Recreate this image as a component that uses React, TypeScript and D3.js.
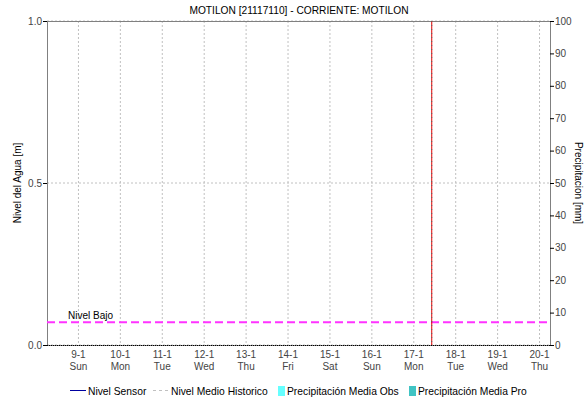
import React from "react";
import * as d3 from "d3";

const title = "MOTILON [21117110] - CORRIENTE: MOTILON";
const dayLabels = ["9-1", "10-1", "11-1", "12-1", "13-1", "14-1", "15-1", "16-1", "17-1", "18-1", "19-1", "20-1"];
const weekdayLabels = ["Sun", "Mon", "Tue", "Wed", "Thu", "Fri", "Sat", "Sun", "Mon", "Tue", "Wed", "Thu"];
const dayDates = dayLabels.map((_, i) => new Date(Date.UTC(2022, 0, 9 + i)));
const domainStart = new Date(Date.UTC(2022, 0, 8, 6));
const domainEnd = new Date(Date.UTC(2022, 0, 20, 6));
const markerTime = new Date(Date.UTC(2022, 0, 17, 10));
const leftTicks = [0, 0.5, 1.0];
const rightTicks = [0, 10, 20, 30, 40, 50, 60, 70, 80, 90, 100];
const nivelBajo = 0.07;
const legendItems = [
  { label: "Nivel Sensor", kind: "line", color: "#0000a0" },
  { label: "Nivel Medio Historico", kind: "dash", color: "#c0c0c0" },
  { label: "Precipitación Media Obs", kind: "box", color: "#66ffff" },
  { label: "Precipitación Media Pro", kind: "box", color: "#40c4c4" },
];

export default function App() {
  const W = 585, H = 401;
  const L = 47, R = 550, T = 21, B = 345;
  const x = d3.scaleUtc().domain([domainStart, domainEnd]).range([L, R]);
  const yL = d3.scaleLinear().domain([0, 1]).range([B, T]);
  const yR = d3.scaleLinear().domain([0, 100]).range([B, T]);
  const font = "'Liberation Sans', Arial, sans-serif";
  const fs = 10;
  const legendX = [70, 153, 278, 409];
  const mx = x(markerTime);
  return (
    <svg width={W} height={H} style={{ position: "absolute", left: 0, top: 0 }} fontFamily={font}>
      <rect x={0} y={0} width={W} height={H} fill="#ffffff" />
      <text x={299} y={14} textAnchor="middle" fontSize={10.2} fill="#000">{title}</text>
      {/* gridlines */}
      {dayDates.map((d, i) => (
        <line key={"vg" + i} x1={x(d)} x2={x(d)} y1={T} y2={B} stroke="#c0c0c0" strokeDasharray="2,2" strokeWidth={1} />
      ))}
      {leftTicks.map((v, i) => (
        <line key={"hg" + i} x1={L} x2={R} y1={yL(v)} y2={yL(v)} stroke="#c0c0c0" strokeDasharray="2,2" strokeWidth={1} />
      ))}
      {/* frame */}
      <line x1={L} x2={R} y1={T + 0.5} y2={T + 0.5} stroke="#808080" />
      <line x1={L + 0.5} x2={L + 0.5} y1={T} y2={B} stroke="#808080" />
      <line x1={R + 0.5} x2={R + 0.5} y1={T} y2={B} stroke="#808080" />
      <line x1={L} x2={R} y1={B + 0.5} y2={B + 0.5} stroke="#808080" />
      <line x1={L} x2={R} y1={B + 0.5} y2={B + 0.5} stroke="#000" strokeDasharray="1,1" />
      {/* nivel bajo */}
      <line x1={L} x2={R} y1={yL(nivelBajo)} y2={yL(nivelBajo)} stroke="#ff33ff" strokeWidth={2} strokeDasharray="8,4" />
      <text x={68} y={yL(nivelBajo) - 3} fontSize={fs} fill="#000">Nivel Bajo</text>
      {/* marker */}
      <line x1={mx + 0.5} x2={mx + 0.5} y1={T} y2={B} stroke="#e00000" strokeWidth={1} />
      <line x1={mx + 0.5} x2={mx + 0.5} y1={T} y2={B} stroke="#606060" strokeWidth={1} strokeDasharray="1,3" />
      {/* left axis */}
      {leftTicks.map((v, i) => (
        <g key={"lt" + i}>
          <line x1={L - 4} x2={L} y1={yL(v) + 0.5} y2={yL(v) + 0.5} stroke="#000" />
          <text x={42} y={yL(v) + 3.5} textAnchor="end" fontSize={fs} fill="#444">{v.toFixed(1)}</text>
        </g>
      ))}
      {/* right axis */}
      {rightTicks.map((v, i) => (
        <g key={"rt" + i}>
          <line x1={R} x2={R + 4} y1={yR(v) + 0.5} y2={yR(v) + 0.5} stroke="#000" />
          <text x={555} y={yR(v) + 3.5} textAnchor="start" fontSize={fs} fill="#444">{v}</text>
        </g>
      ))}
      {/* x labels */}
      {dayDates.map((d, i) => (
        <g key={"xl" + i}>
          <text x={x(d)} y={358} textAnchor="middle" fontSize={fs} fill="#444">{dayLabels[i]}</text>
          <text x={x(d)} y={369.5} textAnchor="middle" fontSize={fs} fill="#444">{weekdayLabels[i]}</text>
        </g>
      ))}
      {/* axis titles */}
      <text transform={`translate(21,${(T + B) / 2}) rotate(-90)`} textAnchor="middle" fontSize={fs} fill="#000">Nivel del Agua [m]</text>
      <text transform={`translate(575,${(T + B) / 2}) rotate(90)`} textAnchor="middle" fontSize={fs} fill="#000">Precipitacion [mm]</text>
      {/* legend */}
      {legendItems.map((it, i) => {
        const lx = legendX[i];
        const ly = 391;
        return (
          <g key={"lg" + i}>
            {it.kind === "line" && <line x1={lx} x2={lx + 16} y1={ly - 0.5} y2={ly - 0.5} stroke={it.color} strokeWidth={1} />}
            {it.kind === "dash" && <line x1={lx} x2={lx + 16} y1={ly - 0.5} y2={ly - 0.5} stroke={it.color} strokeWidth={1} strokeDasharray="3,3" />}
            {it.kind === "box" && <rect x={lx} y={ly - 5} width={7} height={10} fill={it.color} />}
            <text x={it.kind === "box" ? lx + 9 : lx + 18} y={ly + 3.5} fontSize={10.3} fill="#000">{it.label}</text>
          </g>
        );
      })}
    </svg>
  );
}
